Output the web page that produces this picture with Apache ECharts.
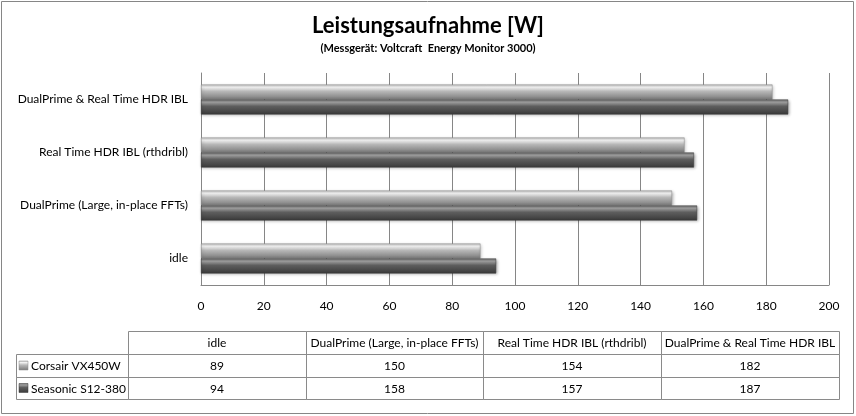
<!DOCTYPE html>
<html><head><meta charset="utf-8">
<script src="https://cdn.jsdelivr.net/npm/echarts@6/dist/echarts.min.js"></script>
<style>html,body{margin:0;padding:0;background:#fff}#c{width:856px;height:416px}</style>
</head><body><div id="c"></div>
<script>
const categories = ['idle', 'DualPrime (Large, in-place FFTs)', 'Real Time HDR IBL (rthdribl)', 'DualPrime & Real Time HDR IBL'];
const seriesNames = ['Corsair VX450W', 'Seasonic S12-380'];
const corsair = [89, 150, 154, 182];
const seasonic = [94, 158, 157, 187];
const xTicks = { min: 0, max: 200, interval: 20 };

const FONT = 'Lato, "Open Sans", sans-serif';
const lightGrad = new echarts.graphic.LinearGradient(0, 0, 0, 1, [
  { offset: 0, color: '#bdbdbd' }, { offset: 0.18, color: '#f2f2f2' },
  { offset: 0.45, color: '#b8b8b8' }, { offset: 1, color: '#7a7a7a' }]);
const darkGrad = new echarts.graphic.LinearGradient(0, 0, 0, 1, [
  { offset: 0, color: '#6a6a6a' }, { offset: 0.18, color: '#a0a0a0' },
  { offset: 0.45, color: '#5e5e5e' }, { offset: 1, color: '#3a3a3a' }]);

const chart = echarts.init(document.getElementById('c'), null, { renderer: 'canvas' });

function tableGraphics() {
  const g = [];
  const colX = [128, 306, 483, 661, 839];
  const rowY = [331, 354, 377, 399];
  const legX = 16;
  const stroke = '#8a8a8a';
  for (let i = 0; i < 4; i++) {
    g.push({ type: 'rect', shape: { x: colX[i] + 0.5, y: rowY[0] + 0.5, width: colX[i + 1] - colX[i], height: rowY[1] - rowY[0] },
      style: { fill: 'none', stroke: stroke, lineWidth: 1 } });
    g.push({ type: 'text', x: (colX[i] + colX[i + 1]) / 2, y: (rowY[0] + rowY[1]) / 2 + 1,
      style: { text: categories[i], font: '12px ' + FONT, fill: '#000', align: 'center', verticalAlign: 'middle' } });
  }
  const rows = [corsair, seasonic];
  for (let r = 0; r < 2; r++) {
    const y0 = rowY[r + 1], y1 = rowY[r + 2];
    g.push({ type: 'rect', shape: { x: legX + 0.5, y: y0 + 0.5, width: colX[0] - legX, height: y1 - y0 },
      style: { fill: 'none', stroke: stroke, lineWidth: 1 } });
    g.push({ type: 'rect', shape: { x: legX + 3, y: (y0 + y1) / 2 - 4.5, width: 9, height: 9 },
      style: { fill: r === 0 ? lightGrad : darkGrad, stroke: r === 0 ? '#8a8a8a' : '#3a3a3a', lineWidth: 0.5 } });
    g.push({ type: 'text', x: legX + 15, y: (y0 + y1) / 2 + 1,
      style: { text: seriesNames[r], font: '12px ' + FONT, fill: '#000', align: 'left', verticalAlign: 'middle' } });
    for (let i = 0; i < 4; i++) {
      g.push({ type: 'rect', shape: { x: colX[i] + 0.5, y: y0 + 0.5, width: colX[i + 1] - colX[i], height: y1 - y0 },
        style: { fill: 'none', stroke: stroke, lineWidth: 1 } });
      g.push({ type: 'text', x: (colX[i] + colX[i + 1]) / 2, y: (y0 + y1) / 2 + 1,
        style: { text: String(rows[r][i]), font: '12px ' + FONT, fill: '#000', align: 'center', verticalAlign: 'middle' } });
    }
  }
  g.push({ type: 'rect', shape: { x: 1.5, y: 1.5, width: 852, height: 412 },
    style: { fill: 'none', stroke: '#868686', lineWidth: 1 } });
  return g;
}

chart.setOption({
  backgroundColor: '#fff',
  animation: false,
  title: {
    text: 'Leistungsaufnahme [W]',
    subtext: '(Messgerät: Voltcraft  Energy Monitor 3000)',
    left: 'center', top: 10, itemGap: 6,
    textStyle: { fontFamily: FONT, fontSize: 22, fontWeight: 'bold', color: '#000' },
    subtextStyle: { fontFamily: FONT, fontSize: 11, fontWeight: 'bold', color: '#000' }
  },
  grid: { left: 201, right: 27, top: 73, bottom: 131, containLabel: false },
  xAxis: {
    type: 'value', min: xTicks.min, max: xTicks.max, interval: xTicks.interval,
    axisLine: { show: true, lineStyle: { color: '#868686' } },
    axisTick: { show: false },
    axisLabel: { margin: 15, fontFamily: FONT, fontSize: 12, color: '#000' },
    splitLine: { show: true, lineStyle: { color: '#868686', width: 1 } }
  },
  yAxis: {
    type: 'category', data: categories,
    axisLine: { show: true, lineStyle: { color: '#868686' } },
    axisTick: { show: false },
    axisLabel: { margin: 13, fontFamily: FONT, fontSize: 12, color: '#000' },
    splitLine: { show: false }
  },
  series: [
    { name: seriesNames[0], type: 'bar', data: corsair, barWidth: 15, barGap: '0%', barCategoryGap: '45%',
      itemStyle: { color: lightGrad, borderColor: '#8a8a8a', borderWidth: 0.5, shadowColor: 'rgba(0,0,0,0.3)', shadowBlur: 3, shadowOffsetX: 1, shadowOffsetY: 1 } },
    { name: seriesNames[1], type: 'bar', data: seasonic, barWidth: 15, barGap: '0%',
      itemStyle: { color: darkGrad, borderColor: '#3a3a3a', borderWidth: 0.5, shadowColor: 'rgba(0,0,0,0.35)', shadowBlur: 3, shadowOffsetX: 1, shadowOffsetY: 1 } }
  ],
  graphic: tableGraphics()
});
</script></body></html>
